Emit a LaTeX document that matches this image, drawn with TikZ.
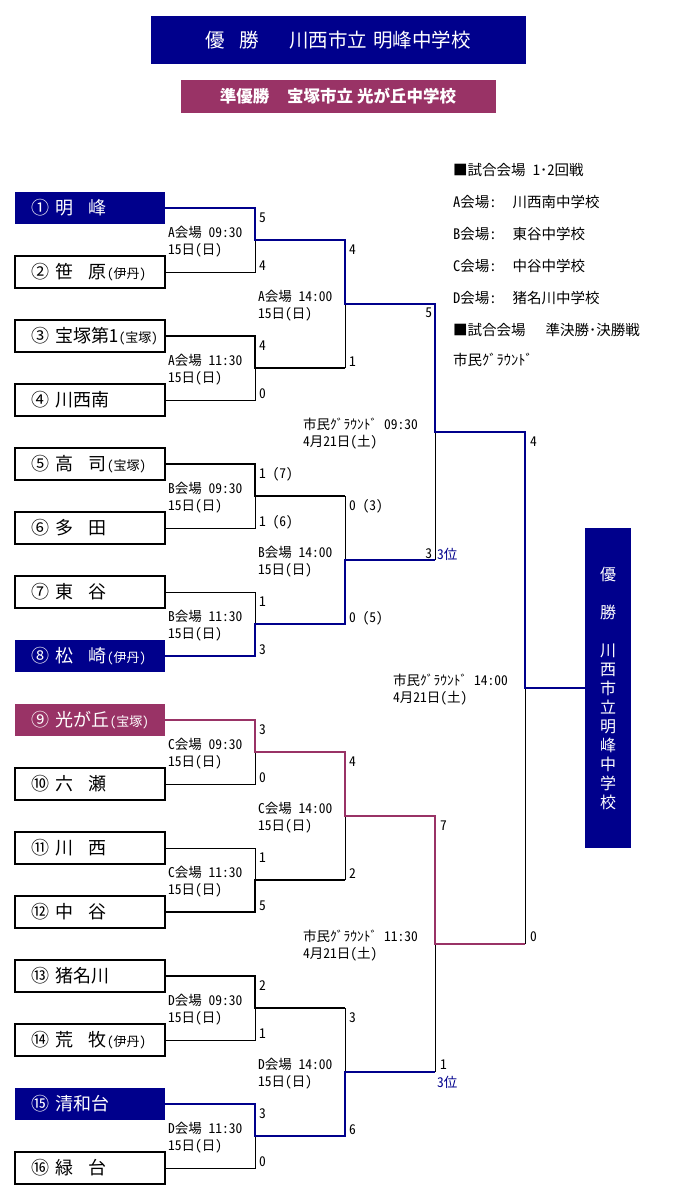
\documentclass[tikz,border=0pt]{standalone}
\usepackage{fontspec}
\setmainfont[RawFeature=+hwid]{Noto Sans CJK JP}

\definecolor{kon}{RGB}{0,0,140}
\definecolor{ebi}{RGB}{153,51,102}

\newcommand{\home}[1]{{\fontsize{13}{15}\selectfont(#1)}}
\newcommand{\gap}{\hspace{15pt}}

\begin{document}
\begin{tikzpicture}[x=1pt, y=-1pt, outer sep=0pt,
    team/.style={minimum height=32pt, text width=150pt, inner xsep=0pt,
                 inner ysep=0pt, align=left, font=\fontsize{18}{20}\selectfont},
    whitebox/.style={team, draw, line width=2.5pt},
    konbox/.style={team, fill=kon, text=white},
    ebibox/.style={team, fill=ebi, text=white},
    lpath/.style={line width=1pt},
    kpath/.style={line width=2pt},
    wpath/.style={line width=2pt, kon},
    rpath/.style={line width=2pt, ebi},
    info/.style={anchor=west, inner sep=0pt, align=left,
                 font=\fontsize{13.5}{17}\selectfont},
    score/.style={anchor=west, inner sep=0pt, font=\fontsize{13.5}{15}\selectfont},
    legend/.style={anchor=west, inner sep=0pt, font=\fontsize{14.5}{16}\selectfont}]

\useasboundingbox (0,0) rectangle (700,1201);

%\draw[step=50, gray!20, very thin] (0,0) grid (700,1201);

% banners
\node[fill=kon, text=white, minimum width=375pt, minimum height=48pt,
      font=\fontsize{19.5}{20}\selectfont] (champ) at (338,40)
      {優\hspace{15pt}勝\hspace{30pt}川西市立\hspace{6pt}明峰中学校};
\node[fill=ebi, text=white, minimum width=315pt, minimum height=33pt,
      font=\fontsize{16.5}{18}\bfseries] (second) at (338,96.5)
      {準優勝\hspace{18pt}宝塚市立\hspace{4pt}光が丘中学校};

% teams
\node[konbox]   (t1)  at (90,208)  {\hspace*{17pt}① 明\gap 峰};
\node[whitebox] (t2)  at (90,272)  {\hspace*{17pt}② 笹\gap 原\home{伊丹}};
\node[whitebox] (t3)  at (90,336)  {\hspace*{17pt}③ 宝塚第1\home{宝塚}};
\node[whitebox] (t4)  at (90,400)  {\hspace*{17pt}④ 川西南};
\node[whitebox] (t5)  at (90,464)  {\hspace*{17pt}⑤ 高\gap 司\home{宝塚}};
\node[whitebox] (t6)  at (90,528)  {\hspace*{17pt}⑥ 多\gap 田};
\node[whitebox] (t7)  at (90,592)  {\hspace*{17pt}⑦ 東\gap 谷};
\node[konbox]   (t8)  at (90,656)  {\hspace*{17pt}⑧ 松\gap 崎\home{伊丹}};
\node[ebibox]   (t9)  at (90,720)  {\hspace*{17pt}⑨ 光が丘\home{宝塚}};
\node[whitebox] (t10) at (90,784)  {\hspace*{17pt}⑩ 六\gap 瀬};
\node[whitebox] (t11) at (90,848)  {\hspace*{17pt}⑪ 川\gap 西};
\node[whitebox] (t12) at (90,912)  {\hspace*{17pt}⑫ 中\gap 谷};
\node[whitebox] (t13) at (90,976)  {\hspace*{17pt}⑬ 猪名川};
\node[whitebox] (t14) at (90,1040) {\hspace*{17pt}⑭ 荒\gap 牧\home{伊丹}};
\node[konbox]   (t15) at (90,1104) {\hspace*{17pt}⑮ 清和台};
\node[whitebox] (t16) at (90,1168) {\hspace*{17pt}⑯ 緑\gap 台};

\node[fill=kon, text=white, minimum width=46pt, minimum height=320pt,
      align=center, font=\fontsize{16}{19}\selectfont] (w) at (608,688)
      {優\\[19pt]勝\\[19pt]川\\西\\市\\立\\明\\峰\\中\\学\\校};

% joints
\coordinate (m1) at (255,240);
\coordinate (m2) at (255,368);
\coordinate (m3) at (255,496);
\coordinate (m4) at (255,624);
\coordinate (m5) at (255,752);
\coordinate (m6) at (255,880);
\coordinate (m7) at (255,1008);
\coordinate (m8) at (255,1136);
\coordinate (q1) at (345,304);
\coordinate (q2) at (345,560);
\coordinate (q3) at (345,816);
\coordinate (q4) at (345,1072);
\coordinate (s1) at (435,432);
\coordinate (s2) at (435,944);
\coordinate (f)  at (525,688);

% losing lines
\draw[lpath] (t2.east)  -| (m1);
\draw[lpath] (t4.east)  -| (m2);
\draw[lpath] (t6.east)  -| (m3);
\draw[lpath] (t7.east)  -| (m4);
\draw[lpath] (t10.east) -| (m5);
\draw[lpath] (t11.east) -| (m6);
\draw[lpath] (t14.east) -| (m7);
\draw[lpath] (t16.east) -| (m8);
\draw[lpath] (q1 |- m2) -- (q1);
\draw[lpath] (q2 |- m3) -- (q2);
\draw[lpath] (q3 |- m6) -- (q3);
\draw[lpath] (q4 |- m7) -- (q4);
\draw[lpath] (s1 |- q2) -- (s1);
\draw[lpath] (s2 |- q4) -- (s2);
\draw[lpath] (f |- s2)  -- (f);

% winning lines
\draw[kpath] (t3.east)  -| (m2) -- (q1 |- m2);
\draw[kpath] (t5.east)  -| (m3) -- (q2 |- m3);
\draw[kpath] (t12.east) -| (m6) -- (q3 |- m6);
\draw[kpath] (t13.east) -| (m7) -- (q4 |- m7);
\draw[wpath] (t8.east)  -| (m4) -| (q2) -- (s1 |- q2);
\draw[wpath] (t15.east) -| (m8) -| (q4) -- (s2 |- q4);
\draw[rpath] (t9.east)  -| (m5) -| (q3) -| (s2) -- (f |- s2);
\draw[wpath] (t1.east)  -| (m1) -| (q1) -| (s1) -| (f) -- (w.west);

% match info
\node[info] (i1)  at (168,241.5)  {A会場 09:30\\15日(日)};
\node[info] (i2)  at (168,369.5)  {A会場 11:30\\15日(日)};
\node[info] (i3)  at (168,497.5)  {B会場 09:30\\15日(日)};
\node[info] (i4)  at (168,625.5)  {B会場 11:30\\15日(日)};
\node[info] (i5)  at (168,753.5)  {C会場 09:30\\15日(日)};
\node[info] (i6)  at (168,881.5)  {C会場 11:30\\15日(日)};
\node[info] (i7)  at (168,1009.5) {D会場 09:30\\15日(日)};
\node[info] (i8)  at (168,1137.5) {D会場 11:30\\15日(日)};
\node[info] (i9)  at (258,305.5)  {A会場 14:00\\15日(日)};
\node[info] (i10) at (258,561.5)  {B会場 14:00\\15日(日)};
\node[info] (i11) at (258,817.5)  {C会場 14:00\\15日(日)};
\node[info] (i12) at (258,1073.5) {D会場 14:00\\15日(日)};
\node[info] (i13) at (303,433.5)  {市民ｸﾞﾗｳﾝﾄﾞ 09:30\\4月21日(土)};
\node[info] (i14) at (303,945.5)  {市民ｸﾞﾗｳﾝﾄﾞ 11:30\\4月21日(土)};
\node[info] (i15) at (393,690)    {市民ｸﾞﾗｳﾝﾄﾞ 14:00\\4月21日(土)};

% scores
\node[score] (p1a) at (259,218)  {5};
\node[score] (p1b) at (259,266)  {4};
\node[score] (p2a) at (259,346)  {4};
\node[score] (p2b) at (259,394)  {0};
\node[score] (p3a) at (259,474)  {1 (7)};
\node[score] (p3b) at (259,522)  {1 (6)};
\node[score] (p4a) at (259,602)  {1};
\node[score] (p4b) at (259,650)  {3};
\node[score] (p5a) at (259,730)  {3};
\node[score] (p5b) at (259,778)  {0};
\node[score] (p6a) at (259,858)  {1};
\node[score] (p6b) at (259,906)  {5};
\node[score] (p7a) at (259,986)  {2};
\node[score] (p7b) at (259,1034) {1};
\node[score] (p8a) at (259,1114) {3};
\node[score] (p8b) at (259,1162) {0};
\node[score] (p9a)  at (349,250)  {4};
\node[score] (p9b)  at (349,362)  {1};
\node[score] (p10a) at (349,506)  {0 (3)};
\node[score] (p10b) at (349,618)  {0 (5)};
\node[score] (p11a) at (349,762)  {4};
\node[score] (p11b) at (349,874)  {2};
\node[score] (p12a) at (349,1018) {3};
\node[score] (p12b) at (349,1130) {6};
\node[score, anchor=east] (p13a) at (432,313) {5};
\node[score, anchor=east] (p13b) at (432,554) {3};
\node[score, kon] (third1) at (437,554) {3位};
\node[score] (p14a) at (440,826)  {7};
\node[score] (p14b) at (440,1065) {1};
\node[score, kon] (third2) at (437,1082) {3位};
\node[score] (p15a) at (530,442)  {4};
\node[score] (p15b) at (530,937)  {0};

% venues
\node[legend] (lg1) at (453,170) {■試合会場 1･2回戦};
\node[legend] (lg2) at (453,202) {A会場:\hspace{16pt}川西南中学校};
\node[legend] (lg3) at (453,234) {B会場:\hspace{16pt}東谷中学校};
\node[legend] (lg4) at (453,266) {C会場:\hspace{16pt}中谷中学校};
\node[legend] (lg5) at (453,298) {D会場:\hspace{16pt}猪名川中学校};
\node[legend] (lg6) at (453,330) {■試合会場\hspace{20pt}準決勝･決勝戦};
\node[legend] (lg7) at (453,360) {市民ｸﾞﾗｳﾝﾄﾞ};

\end{tikzpicture}
\end{document}
